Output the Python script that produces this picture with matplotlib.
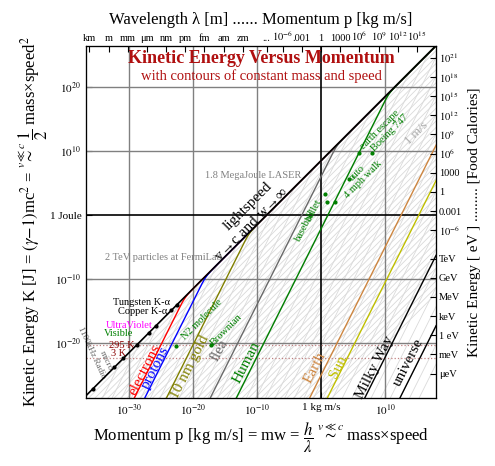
import numpy as np
import matplotlib
matplotlib.use("Agg")
import matplotlib.pyplot as plt

plt.rcParams['font.family'] = ['Liberation Serif', 'DejaVu Serif']
plt.rcParams['mathtext.fontset'] = 'stix'

c = 3e8
# named contours (mass kg)
mass_names = ["electrons", "protons", "10 nm gold", "flea", "Human", "Earth", "Sun", "Milky Way", "universe"]
mass_values = [9.1e-31, 1.67e-27, 1e-20, 5e-7, 70, 6e24, 2e30, 1e42, 1e53]
mass_colors = ["red", "blue", "olive", "dimgray", "green", "peru", "y", "black", "black"]
mass_label_xy = [(-27.5, -24.2), (-25.9, -23.8), (-20.5, -23.8), (-15.8, -21.1), (-11.6, -23.0),
                 (-0.9, -23.8), (2.7, -23.8), (8.4, -23.8), (13.6, -23.1)]
# photon points (log10 momentum)
photon_names = ["1100kHz Radio", "micro", "3 K", "295 K", "Visible", "UltraViolet", "Copper K-α", "Tungsten K-α"]
photon_logp = [-35.6, -32.3, -30.9, -28.8, -26.9, -25.8, -23.4, -22.5]
# green object points (log10 p, log10 K)
obj_points = [(0.6, 3.3), (0.9, 2.0), (2.2, 2.0), (4.4, 5.6), (5.9, 9.7), (8.0, 9.7), (-22.7, -20.5), (-17.2, -20.3)]

xlo, xhi = -36.7, 18.0
ylo, yhi = -28.6, 26.4

fig = plt.figure(figsize=(4.95, 4.66), dpi=100)
ax = fig.add_axes([0.174, 0.146, 0.707, 0.755])
ax.set_xscale('log'); ax.set_yscale('log')
ax.set_xlim(10**xlo, 10**xhi); ax.set_ylim(10**ylo, 10**yhi)

p = np.logspace(xlo, xhi, 800)

# background mass contours
for lm in np.arange(-40, 60, 3.0):
    m = 10.0**lm
    pc = p*c; mc2 = m*c*c
    K = np.where(pc/mc2 < 1e-4, p**2/(2*m), np.sqrt(pc**2 + mc2**2) - mc2)
    ax.plot(p, K, color='#dadada', lw=0.6, zorder=1)
# background speed contours
for lv in np.arange(-30, 9, 1.0):
    v = 10.0**lv
    if v >= c: continue
    b = v/c; g = 1/np.sqrt(1-b*b)
    ratio = (g-1)*c*c/(g*v) if b > 1e-4 else v/2
    ax.plot(p, p*ratio, color='#dadada', lw=0.6, zorder=1)

# grid
for e in [-30, -20, -10, 10]:
    ax.axvline(10.0**e, color='gray', lw=1, zorder=2)
for e in [20, 10, -10, -20]:
    ax.axhline(10.0**e, color='gray', lw=1, zorder=2)
ax.axvline(1, color='black', lw=1.2, zorder=2)
ax.axhline(1, color='black', lw=1.2, zorder=2)
ax.axhline(1.38e-23*295, color='#c08080', lw=0.9, ls=':', zorder=2)
ax.axhline(1.38e-23*3, color='#c08080', lw=0.9, ls=':', zorder=2)

# named mass contours
for nm, m, col, (lx, ly) in zip(mass_names, mass_values, mass_colors, mass_label_xy):
    pc = p*c; mc2 = m*c*c
    K = np.where(pc/mc2 < 1e-4, p**2/(2*m), np.sqrt(pc**2 + mc2**2) - mc2)
    ax.plot(p, K, color=col, lw=1.0, zorder=3)
    ax.text(10**lx, 10**ly, nm, color=col, fontsize=11, rotation=63, ha='center', va='center', zorder=5)

ax.plot(p, p*c, color='black', lw=1.2, zorder=4)
ax.text(10**-11.4, 10**1.3, "lightspeed", fontsize=11, rotation=45, ha='center', va='center')
ax.text(10**-10.9, 10**-1.4, "v→c and w→∞", fontsize=11, rotation=45, ha='center', va='center')

pl = 10.0**np.array(photon_logp)
ax.plot(pl, pl*c, 'o', color='black', ms=2, zorder=6)
ax.text(10**-10.6, 10**6.1, "1.8 MegaJoule LASER", fontsize=7.5, color='gray', ha='center', va='center')
ax.text(10**-24.7, 10**-6.7, "2 TeV particles at FermiLab", fontsize=7.5, color='gray', ha='center', va='center')
ax.text(10**-28, 10**-13.7, "Tungsten K-α", fontsize=7.5, ha='center', va='center')
ax.text(10**-27.8, 10**-15.1, "Copper K-α", fontsize=7.5, ha='center', va='center')
ax.text(10**-30, 10**-17.3, "UltraViolet", fontsize=7.5, color='magenta', ha='center', va='center')
ax.text(10**-31.7, 10**-18.6, "Visible", fontsize=7.5, color='green', ha='center', va='center')
ax.text(10**-31.2, 10**-20.4, "295 K", fontsize=7.5, color='darkred', ha='center', va='center')
ax.text(10**-31.7, 10**-21.7, "3 K", fontsize=7.5, color='darkred', ha='center', va='center')
ax.text(10**-35.8, 10**-21.5, "1100kHz Radio", fontsize=6.5, color='dimgray', rotation=-65, ha='center', va='center')
ax.text(10**-33.6, 10**-22.8, "micro", fontsize=6.5, color='dimgray', rotation=-65, ha='center', va='center')

op = np.array(obj_points)
ax.plot(10**op[:, 0], 10**op[:, 1], 'o', color='green', ms=2, zorder=6)
green_labels = [("N2 molecule", -18.6, -16.4, 45), ("Brownian", -14.7, -18.0, 45),
                ("baseball", -2.4, -1.6, 63), ("bullet", -1.0, 0.8, 63),
                ("auto", 5.6, 6.6, 45), ("4 mph walk", 6.6, 5.5, 45),
                ("earth escape", 9.2, 13.3, 45), ("Boeing 747", 10.8, 12.8, 45)]
for t, lx, ly, r in green_labels:
    ax.text(10**lx, 10**ly, t, fontsize=7.5, color='green', rotation=r, ha='center', va='center')
ax.text(10**15, 10**12.8, "1 m/s", fontsize=9, color='darkgray', rotation=45, ha='center', va='center')

ax.text(0.5, 0.965, "Kinetic Energy Versus Momentum", transform=ax.transAxes, fontsize=13,
        fontweight='bold', color='#b01010', ha='center', va='center')
ax.text(0.5, 0.915, "with contours of constant mass and speed", transform=ax.transAxes, fontsize=10.5,
        color='#b01010', ha='center', va='center')

# ticks
ax.minorticks_off()
ax.set_xticks([1e-30, 1e-20, 1e-10, 1, 1e10])
ax.set_xticklabels(["$10^{-30}$", "$10^{-20}$", "$10^{-10}$", "1 kg m/s", "$10^{10}$"], fontsize=8)
ax.set_yticks([1e-20, 1e-10, 1, 1e10, 1e20])
ax.set_yticklabels(["$10^{-20}$", "$10^{-10}$", "1 Joule", "$10^{10}$", "$10^{20}$"], fontsize=8)
ax.tick_params(direction='in', length=4)

top_labels = ["km", "m", "mm", "μm", "nm", "pm", "fm", "am", "zm", "...", "$10^{-6}$", ".001", "1", "1000", "$10^6$", "$10^9$", "$10^{12}$", "$10^{15}$"]
top_logp = [-36.2, -33.2, -30.2, -27.2, -24.2, -21.2, -18.2, -15.2, -12.2, -8.5, -6, -3, 0, 3, 6, 9, 12, 15]
axt = ax.twiny(); axt.set_xscale('log'); axt.set_xlim(ax.get_xlim()); axt.minorticks_off()
axt.set_xticks([10.0**v for v in top_logp]); axt.set_xticklabels(top_labels, fontsize=7.5)
axt.tick_params(direction='in', length=4, pad=2)

right_labels = ["$10^{21}$", "$10^{18}$", "$10^{15}$", "$10^{12}$", "$10^{9}$", "$10^{6}$", "1000", "1", "0.001", "$10^{-6}$",
                "TeV", "GeV", "MeV", "keV", "1 eV", "meV", "μeV"]
right_logE = [24.6, 21.6, 18.6, 15.6, 12.6, 9.6, 6.6, 3.6, 0.6, -2.4, -6.8, -9.8, -12.8, -15.8, -18.8, -21.8, -24.8]
axr = ax.twinx(); axr.set_yscale('log'); axr.set_ylim(ax.get_ylim()); axr.minorticks_off()
axr.set_yticks([10.0**v for v in right_logE]); axr.set_yticklabels(right_labels, fontsize=7.5)
axr.tick_params(direction='in', length=4, pad=2)

ax.set_xlabel(r"Momentum p [kg m/s] = mw = $\dfrac{h}{\lambda}$ $\overset{v\ll c}{\sim}$ mass×speed", fontsize=12, labelpad=2)
ax.set_ylabel(r"Kinetic Energy K [J] = $(\gamma{-}1)$mc$^2$ = $\overset{v\ll c}{\sim}$ $\dfrac{1}{2}$ mass×speed$^2$", fontsize=12, labelpad=0)
axt.set_xlabel("Wavelength λ [m] ...... Momentum p [kg m/s]", fontsize=12, labelpad=4)
axr.set_ylabel("Kinetic Energy [ eV ] ......... [Food Calories]", fontsize=11, labelpad=4)

fig.savefig("out.png", dpi=100)
